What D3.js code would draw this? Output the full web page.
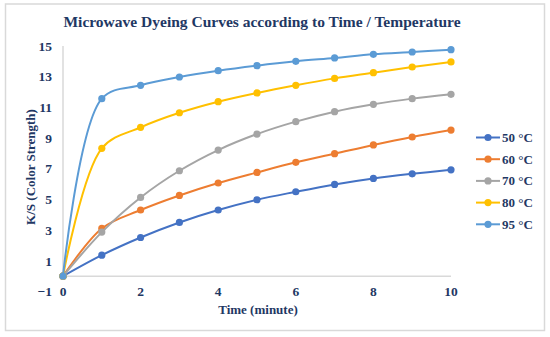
<!DOCTYPE html>
<html>
<head>
<meta charset="utf-8">
<script src="https://cdn.jsdelivr.net/npm/d3@7"></script>
<style>
  body { margin: 0; background: #fff; }
  text { font-family: "Liberation Serif", "Times New Roman", serif; font-weight: bold; fill: #1f3864; }
</style>
</head>
<body>
<div id="chart"></div>
<script>
const times = [0, 1, 2, 3, 4, 5, 6, 7, 8, 9, 10]
const labels = ['50 °C', '60 °C', '70 °C', '80 °C', '95 °C']
const colors = ['#4472c4', '#ed7d31', '#a5a5a5', '#ffc000', '#5b9bd5']
const s50 = [0, 1.37, 2.52, 3.50, 4.31, 4.98, 5.50, 5.98, 6.37, 6.67, 6.93]
const s60 = [0, 3.11, 4.31, 5.26, 6.07, 6.76, 7.42, 7.98, 8.55, 9.07, 9.52]
const s70 = [0, 2.87, 5.13, 6.87, 8.22, 9.26, 10.07, 10.72, 11.20, 11.57, 11.85]
const s80 = [0, 8.33, 9.70, 10.65, 11.37, 11.94, 12.44, 12.89, 13.26, 13.63, 13.96]
const s95 = [0, 11.57, 12.44, 12.98, 13.39, 13.72, 14.00, 14.22, 14.46, 14.61, 14.76]
const xTicks = [0, 2, 4, 6, 8, 10]
const yTicks = [-1, 1, 3, 5, 7, 9, 11, 13, 15]

const series = [s50, s60, s70, s80, s95]

const w = 550
const h = 337

const svg = d3.select('#chart')
              .append('svg')
              .attr('width', w)
              .attr('height', h)

// chart border
svg.append('rect')
   .attr('x', 5.5).attr('y', 4)
   .attr('width', 539).attr('height', 326.5)
   .attr('fill', 'none')
   .attr('stroke', '#d9d9d9')
   .attr('stroke-width', 1.5)

const xScale = d3.scaleLinear().domain([0, 10]).range([63, 451])
const yScale = d3.scaleLinear().domain([-1, 15]).range([291.5, 46])

// title
svg.append('text')
   .attr('x', 262).attr('y', 27)
   .attr('text-anchor', 'middle')
   .style('font-size', '15.5px')
   .text('Microwave Dyeing Curves according to Time / Temperature')

// axis lines
svg.append('line')
   .attr('x1', xScale(0)).attr('x2', xScale(0))
   .attr('y1', yScale(15)).attr('y2', yScale(0))
   .attr('stroke', '#d9d9d9').attr('stroke-width', 1.5)
svg.append('line')
   .attr('x1', xScale(0)).attr('x2', xScale(10))
   .attr('y1', yScale(0)).attr('y2', yScale(0))
   .attr('stroke', '#d9d9d9').attr('stroke-width', 1.5)

// tick labels
svg.selectAll('.ytick')
   .data(yTicks)
   .enter()
   .append('text')
   .attr('class', 'ytick')
   .attr('x', 52)
   .attr('y', d => yScale(d))
   .attr('dy', '0.35em')
   .attr('text-anchor', 'end')
   .style('font-size', '13.5px')
   .text(d => d < 0 ? '\u2212' + Math.abs(d) : d)

svg.selectAll('.xtick')
   .data(xTicks)
   .enter()
   .append('text')
   .attr('class', 'xtick')
   .attr('x', d => xScale(d))
   .attr('y', yScale(-1))
   .attr('dy', '0.35em')
   .attr('text-anchor', 'middle')
   .style('font-size', '13.5px')
   .text(d => d)

// axis titles
svg.append('text')
   .attr('x', 258).attr('y', 314)
   .attr('text-anchor', 'middle')
   .style('font-size', '13px')
   .text('Time (minute)')

svg.append('text')
   .attr('transform', 'translate(35, 167) rotate(-90)')
   .attr('text-anchor', 'middle')
   .style('font-size', '13px')
   .text('K/S (Color Strength)')

// lines (smoothed like the spreadsheet chart)
const line = d3.line()
               .x((d, i) => xScale(times[i]))
               .y(d => yScale(d))
               .curve(d3.curveCatmullRom.alpha(0.5))

series.forEach((s, k) => {
  svg.append('path')
     .datum(s)
     .attr('d', line)
     .attr('fill', 'none')
     .attr('stroke', colors[k])
     .attr('stroke-width', 2)

  svg.selectAll('.dot' + k)
     .data(s)
     .enter()
     .append('circle')
     .attr('class', 'dot' + k)
     .attr('cx', (d, i) => xScale(times[i]))
     .attr('cy', d => yScale(d))
     .attr('r', 3.6)
     .attr('fill', colors[k])
})

// legend
const legend = svg.selectAll('.legend')
                  .data(labels)
                  .enter()
                  .append('g')
                  .attr('class', 'legend')
                  .attr('transform', (d, i) => 'translate(476, ' + (137.5 + i * 21.7) + ')')

legend.append('line')
      .attr('x1', 0).attr('x2', 24)
      .attr('stroke', (d, i) => colors[i])
      .attr('stroke-width', 2)
legend.append('circle')
      .attr('cx', 12).attr('r', 3.6)
      .attr('fill', (d, i) => colors[i])
legend.append('text')
      .attr('x', 26)
      .attr('dy', '0.35em')
      .style('font-size', '13px')
      .text(d => d)
</script>
</body>
</html>
